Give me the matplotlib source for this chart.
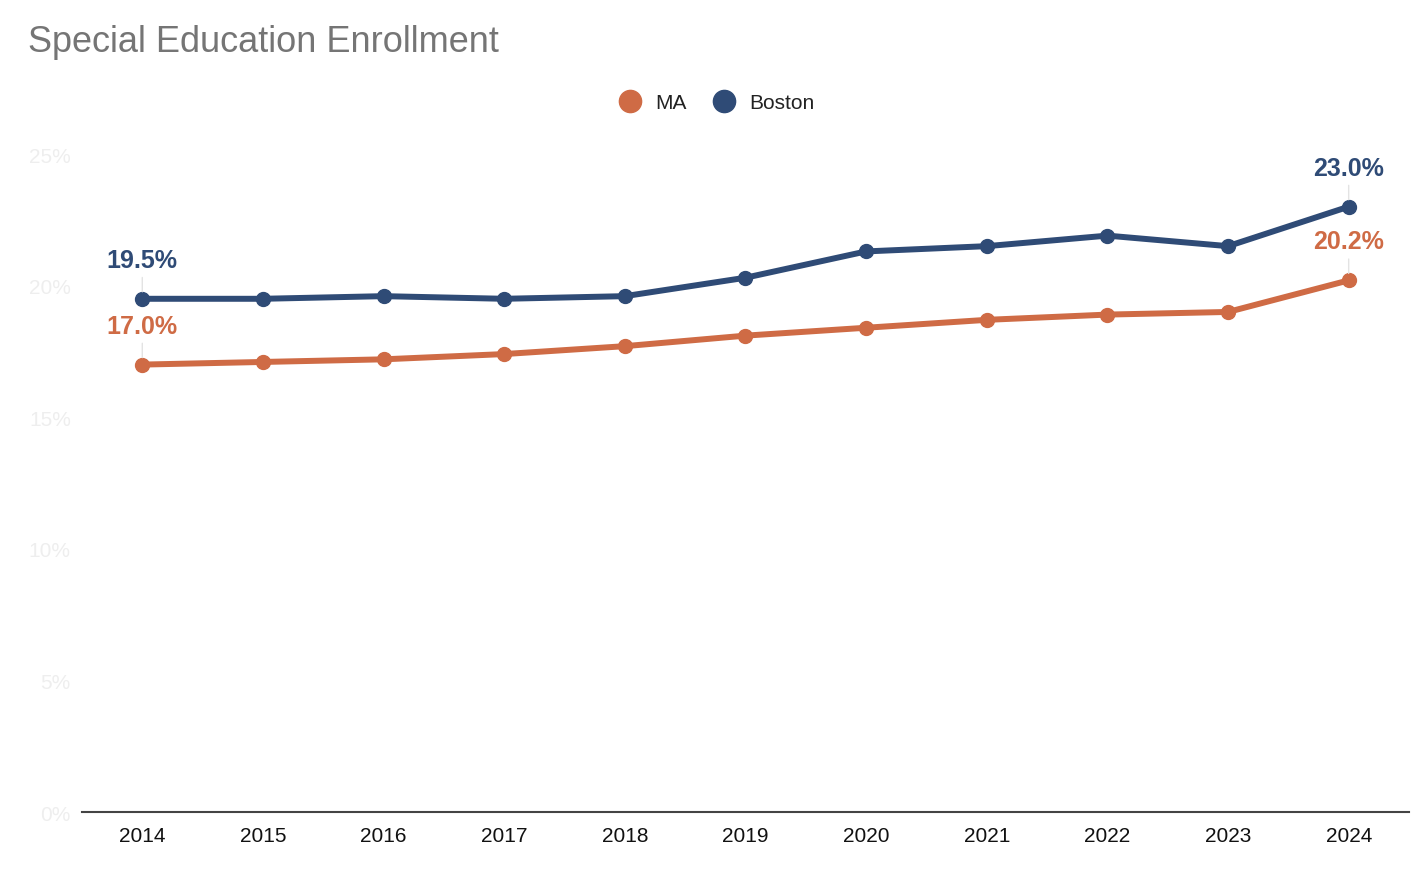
import matplotlib.pyplot as plt
from matplotlib.lines import Line2D

plt.rcParams['font.family'] = ['Liberation Sans', 'DejaVu Sans']

# enrollment share, percent of students
years = ['2014', '2015', '2016', '2017', '2018', '2019', '2020', '2021', '2022', '2023', '2024']
ma = [17.0, 17.1, 17.2, 17.4, 17.7, 18.1, 18.4, 18.7, 18.9, 19.0, 20.2]
boston = [19.5, 19.5, 19.6, 19.5, 19.6, 20.3, 21.3, 21.5, 21.9, 21.5, 23.0]
y_ticks = [0, 5, 10, 15, 20, 25]

ma_color = '#CF6B45'
boston_color = '#2F4B76'

fig = plt.figure(figsize=(14.28, 8.7), dpi=100)
ax = fig.add_axes([0.0574, 0.0655, 0.9293, 0.7563])

x = list(range(len(years)))
ax.plot(x, boston, color=boston_color, lw=4.3, marker='o', ms=10, zorder=3)
ax.plot(x, ma, color=ma_color, lw=4.3, marker='o', ms=10, zorder=3)

# labels on first and last points with thin leader lines
for series, col in [(boston, boston_color), (ma, ma_color)]:
    for i in (0, len(years) - 1):
        ax.annotate(f'{series[i]:.1f}%', xy=(x[i], series[i]), xytext=(0, 28),
                    textcoords='offset points', ha='center', va='center',
                    fontsize=18, fontweight='bold', color=col, zorder=4,
                    arrowprops=dict(arrowstyle='-', color='#e3e3e3', lw=1,
                                    shrinkA=2, shrinkB=5))

ax.set_xlim(-0.5, len(years) - 0.5)
ax.set_ylim(0, 25)
ax.set_xticks(x)
ax.set_xticklabels(years, fontsize=15, color='#111111')
ax.set_yticks(y_ticks)
ax.set_yticklabels([f'{t}%' for t in y_ticks], fontsize=15, color='#eeeeee')
ax.tick_params(axis='x', length=0, pad=10)
ax.tick_params(axis='y', length=0, pad=8)

for s in ['top', 'right', 'left']:
    ax.spines[s].set_visible(False)
ax.spines['bottom'].set_color('#444444')
ax.spines['bottom'].set_linewidth(1.5)

fig.text(28 / 1428, 1 - 43 / 870, 'Special Education Enrollment', fontsize=26,
         color='#757575', va='center', ha='left')

handles = [Line2D([], [], ls='none', marker='o', ms=16, color=ma_color, label='MA'),
           Line2D([], [], ls='none', marker='o', ms=16, color=boston_color, label='Boston')]
fig.legend(handles=handles, loc='center', bbox_to_anchor=(0.4985, 1 - 104 / 870), ncol=2,
           frameon=False, fontsize=15, handletextpad=0.2, columnspacing=0.8,
           labelcolor='#222222')

fig.savefig('out.png', dpi=100)
